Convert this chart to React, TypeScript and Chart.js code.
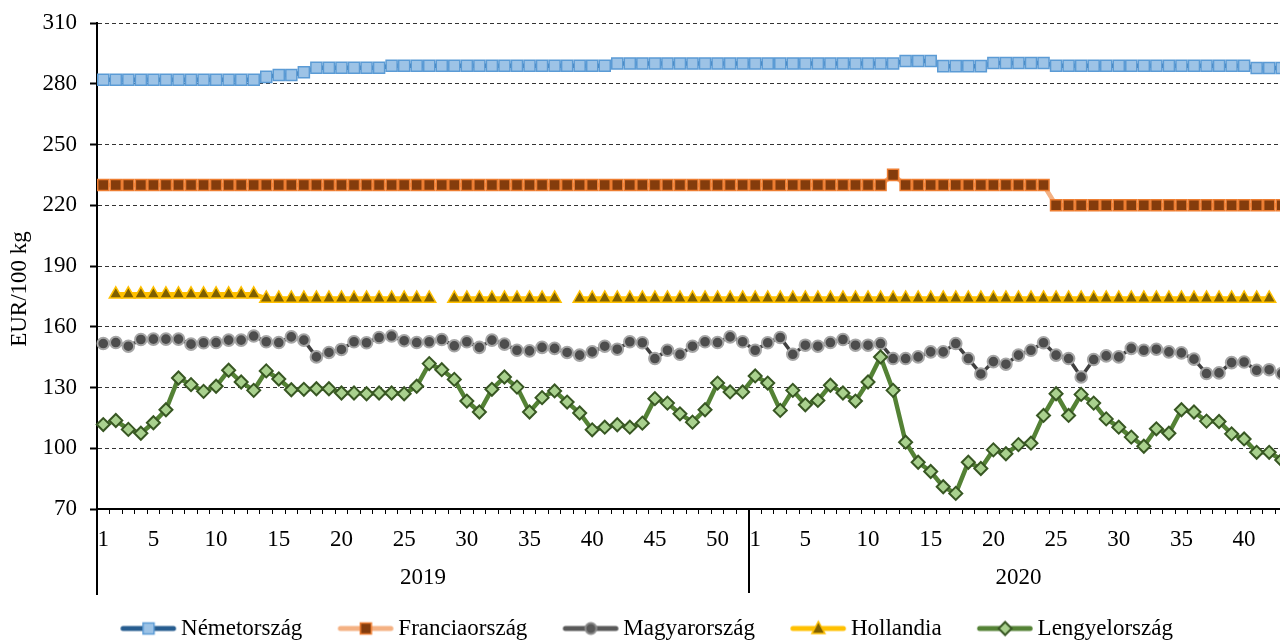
import { useEffect, useRef } from 'react';
import { Chart, registerables } from 'chart.js';

Chart.register(...registerables);

const FONT = "'Liberation Serif', 'Times New Roman', serif";

// Categories: weeks of 2019 and 2020
const weeks2019 = [1, 2, 3, 4, 5, 6, 7, 8, 9, 10, 11, 12, 13, 14, 15, 16, 17, 18, 19, 20, 21, 22, 23, 24, 25, 26, 27, 28, 29, 30, 31, 32, 33, 34, 35, 36, 37, 38, 39, 40, 41, 42, 43, 44, 45, 46, 47, 48, 49, 50, 51, 52];
const weeks2020 = [1, 2, 3, 4, 5, 6, 7, 8, 9, 10, 11, 12, 13, 14, 15, 16, 17, 18, 19, 20, 21, 22, 23, 24, 25, 26, 27, 28, 29, 30, 31, 32, 33, 34, 35, 36, 37, 38, 39, 40, 41, 42, 43];
const years = ['2019', '2020'];
const seriesNames = ['Németország', 'Franciaország', 'Magyarország', 'Hollandia', 'Lengyelország'];
const yTicks = [70, 100, 130, 160, 190, 220, 250, 280, 310];
const yTitle = 'EUR/100 kg';

const nemetorszag = [
  282, 282, 282, 282, 282, 282, 282, 282, 282, 282,
  282, 282, 282, 283.4, 284.3, 284.3, 285.7, 287.9, 287.9, 287.9,
  287.9, 287.9, 287.9, 288.9, 288.9, 288.9, 288.9, 288.9, 288.9, 288.9,
  288.9, 288.9, 288.9, 288.9, 288.9, 288.9, 288.9, 288.9, 288.9, 288.9,
  288.9, 290, 290, 290, 290, 290, 290, 290, 290, 290,
  290, 290, 290, 290, 290, 290, 290, 290, 290, 290,
  290, 290, 290, 290, 291.2, 291.2, 291.2, 288.7, 288.7, 288.7,
  288.7, 290.2, 290.2, 290.2, 290.2, 290.2, 288.9, 288.9, 288.9, 288.9,
  288.9, 288.9, 288.9, 288.9, 288.9, 288.9, 288.9, 288.9, 288.9, 288.9,
  288.9, 288.9, 287.8, 287.8, 287.8,
];

const franciaorszag = [
  230, 230, 230, 230, 230, 230, 230, 230, 230, 230,
  230, 230, 230, 230, 230, 230, 230, 230, 230, 230,
  230, 230, 230, 230, 230, 230, 230, 230, 230, 230,
  230, 230, 230, 230, 230, 230, 230, 230, 230, 230,
  230, 230, 230, 230, 230, 230, 230, 230, 230, 230,
  230, 230, 230, 230, 230, 230, 230, 230, 230, 230,
  230, 230, 230, 235, 230, 230, 230, 230, 230, 230,
  230, 230, 230, 230, 230, 230, 220, 220, 220, 220,
  220, 220, 220, 220, 220, 220, 220, 220, 220, 220,
  220, 220, 220, 220, 220,
];

const magyarorszag = [
  151.7, 152.2, 150.4, 153.7, 153.9, 153.9, 153.9, 151.4, 152.1, 152.2,
  153.4, 153.4, 155.4, 152.6, 152.2, 155.0, 153.4, 145.1, 147.3, 148.8,
  152.6, 152.1, 154.7, 155.4, 153.1, 152.2, 152.6, 153.7, 150.6, 152.6,
  149.8, 153.4, 151.4, 148.4, 148.1, 149.8, 149.3, 147.3, 146.0, 147.6,
  150.4, 148.9, 152.6, 152.1, 144.3, 148.4, 146.4, 150.4, 152.6, 152.2,
  155.0, 152.6, 148.4, 152.1, 154.7, 146.4, 150.9, 150.4, 152.2, 153.7,
  150.9, 150.9, 151.7, 144.3, 144.3, 145.1, 147.6, 147.6, 151.7, 144.3,
  136.7, 142.8, 141.5, 146.0, 148.4, 152.1, 146.0, 144.3, 135.2, 143.8,
  145.6, 145.1, 149.3, 148.4, 148.9, 147.6, 147.1, 144.0, 136.9, 137.2,
  142.3, 142.6, 138.5, 138.8, 136.9,
];

const hollandia = [
  null, 176, 176, 176, 176, 176, 176, 176, 176, 176,
  176, 176, 176, 174, 174, 174, 174, 174, 174, 174,
  174, 174, 174, 174, 174, 174, 174, null, 174, 174,
  174, 174, 174, 174, 174, 174, 174, null, 174, 174,
  174, 174, 174, 174, 174, 174, 174, 174, 174, 174,
  174, 174, 174, 174, 174, 174, 174, 174, 174, 174,
  174, 174, 174, 174, 174, 174, 174, 174, 174, 174,
  174, 174, 174, 174, 174, 174, 174, 174, 174, 174,
  174, 174, 174, 174, 174, 174, 174, 174, 174, 174,
  174, 174, 174, 174, null,
];

const lengyelorszag = [
  111.7, 113.7, 109.3, 107.4, 112.6, 119.0, 134.7, 131.4, 128.1, 130.6,
  138.5, 132.7, 128.6, 138.2, 134.2, 128.9, 129.1, 129.4, 129.4, 127.3,
  127.3, 126.9, 127.3, 127.3, 126.9, 130.6, 141.8, 138.8, 134.0, 123.3,
  117.9, 129.1, 135.2, 130.2, 117.9, 125.0, 128.3, 122.8, 117.4, 109.1,
  110.4, 111.6, 110.4, 112.4, 124.5, 122.3, 117.0, 112.9, 119.0, 132.2,
  127.8, 127.8, 135.7, 132.2, 118.7, 128.6, 121.5, 123.6, 131.1, 127.3,
  123.3, 132.7, 145.1, 128.6, 103.0, 93.1, 88.5, 81.0, 77.7, 93.1,
  90.0, 99.2, 97.3, 101.8, 102.5, 116.2, 126.9, 116.2, 126.6, 122.3,
  114.5, 110.4, 105.5, 101.0, 109.6, 107.4, 119.0, 117.9, 113.4, 113.2,
  107.1, 104.6, 98.0, 98.0, 94.2,
];

const labels = [...weeks2019, ...weeks2020].map(String);

type MarkerFn = (g: CanvasRenderingContext2D, x: number, y: number) => void;

function legendImage(lineColor: string, marker: MarkerFn) {
  const c = document.createElement('canvas');
  c.width = 64;
  c.height = 22;
  const g = c.getContext('2d')!;
  g.strokeStyle = lineColor;
  g.lineWidth = 5;
  g.lineCap = 'round';
  g.beginPath();
  g.moveTo(8.75, 11);
  g.lineTo(59.25, 11);
  g.stroke();
  marker(g, 34.25, 11);
  return c;
}

const squareMarker = (fill: string, border: string): MarkerFn => (g, x, y) => {
  g.fillStyle = fill;
  g.fillRect(x - 5.5, y - 5.5, 11, 11);
  g.strokeStyle = border;
  g.lineWidth = 1.5;
  g.strokeRect(x - 5.5, y - 5.5, 11, 11);
};
const circleMarker = (fill: string, border: string): MarkerFn => (g, x, y) => {
  g.beginPath();
  g.arc(x, y, 5.5, 0, Math.PI * 2);
  g.fillStyle = fill;
  g.fill();
  g.strokeStyle = border;
  g.lineWidth = 2;
  g.stroke();
};
const triangleMarker = (fill: string, border: string): MarkerFn => (g, x, y) => {
  g.beginPath();
  g.moveTo(x, y - 7);
  g.lineTo(x + 6.5, y + 5);
  g.lineTo(x - 6.5, y + 5);
  g.closePath();
  g.fillStyle = fill;
  g.fill();
  g.strokeStyle = border;
  g.lineWidth = 1.5;
  g.stroke();
};
const diamondMarker = (fill: string, border: string): MarkerFn => (g, x, y) => {
  g.beginPath();
  g.moveTo(x, y - 6.5);
  g.lineTo(x + 6.5, y);
  g.lineTo(x, y + 6.5);
  g.lineTo(x - 6.5, y);
  g.closePath();
  g.fillStyle = fill;
  g.fill();
  g.strokeStyle = border;
  g.lineWidth = 2;
  g.stroke();
};

const extrasPlugin = {
  id: 'extras',
  afterDraw(chart: any) {
    const { ctx, chartArea, scales } = chart;
    const xs = scales.x;
    const ys = scales.y;
    const n2019 = weeks2019.length;
    const divX = (xs.getPixelForTick(n2019 - 1) + xs.getPixelForTick(n2019)) / 2;
    ctx.save();
    ctx.strokeStyle = '#000';
    ctx.lineWidth = 2;
    ctx.beginPath();
    ctx.moveTo(Math.round(divX), chartArea.bottom);
    ctx.lineTo(Math.round(divX), 593);
    ctx.moveTo(ys.right, chartArea.bottom);
    ctx.lineTo(ys.right, 595);
    ctx.stroke();

    ctx.fillStyle = '#000';
    ctx.font = `23px ${FONT}`;
    ctx.textAlign = 'center';
    ctx.textBaseline = 'middle';
    ctx.fillText(years[0], (chartArea.left + divX) / 2, 578);
    ctx.fillText(years[1], (divX + chartArea.right) / 2, 578);

    ctx.translate(20, 289);
    ctx.rotate(-Math.PI / 2);
    ctx.fillText(yTitle, 0, 0);
    ctx.restore();
  },
};

export default function App() {
  const ref = useRef<HTMLCanvasElement>(null);

  useEffect(() => {
    document.body.style.margin = '0';
    Chart.defaults.font.family = FONT;
    Chart.defaults.font.size = 23;
    Chart.defaults.color = '#000';

    const legendImages = [
      legendImage('#265C8F', squareMarker('#9DC3E6', '#5B9BD5')),
      legendImage('#F4B183', squareMarker('#843C0C', '#ED7D31')),
      legendImage('#595959', circleMarker('#595959', '#8C8C8C')),
      legendImage('#FFC000', triangleMarker('#7F6000', '#FFC000')),
      legendImage('#548235', diamondMarker('#A9D18E', '#385723')),
    ];

    const chart = new Chart(ref.current!, {
      type: 'line',
      data: {
        labels,
        datasets: [
          {
            label: seriesNames[0],
            data: nemetorszag,
            borderColor: '#265C8F',
            borderWidth: 4.5,
            pointStyle: 'rect',
            pointRadius: 7.8,
            pointBorderWidth: 1.5,
            pointBackgroundColor: '#9DC3E6',
            pointBorderColor: '#5B9BD5',
            order: 5,
          },
          {
            label: seriesNames[1],
            data: franciaorszag,
            borderColor: '#F4B183',
            borderWidth: 4.5,
            pointStyle: 'rect',
            pointRadius: 7.8,
            pointBorderWidth: 1.5,
            pointBackgroundColor: '#843C0C',
            pointBorderColor: '#ED7D31',
            order: 4,
          },
          {
            label: seriesNames[2],
            data: magyarorszag,
            borderColor: '#404040',
            borderWidth: 3.5,
            pointStyle: 'circle',
            pointRadius: 5.8,
            pointBorderWidth: 2,
            pointBackgroundColor: '#4D4D4D',
            pointBorderColor: '#A6A6A6',
            order: 3,
          },
          {
            label: seriesNames[3],
            data: hollandia,
            borderColor: '#FFC000',
            borderWidth: 4.5,
            pointStyle: 'triangle',
            pointRadius: 7.5,
            pointBorderWidth: 1.5,
            pointBackgroundColor: '#7F6000',
            pointBorderColor: '#FFC000',
            spanGaps: false,
            order: 2,
          },
          {
            label: seriesNames[4],
            data: lengyelorszag,
            borderColor: '#548235',
            borderWidth: 4.5,
            pointStyle: 'rectRot',
            pointRadius: 6.5,
            pointBorderWidth: 2,
            pointBackgroundColor: '#A9D18E',
            pointBorderColor: '#385723',
            order: 1,
          },
        ],
      },
      options: {
        responsive: false,
        maintainAspectRatio: false,
        animation: false,
        devicePixelRatio: 1,
        events: [],
        layout: { padding: { left: 8, right: 12, top: 23, bottom: 0 } },
        elements: { line: { tension: 0 } },
        scales: {
          x: {
            type: 'category',
            offset: true,
            ticks: {
              autoSkip: false,
              maxRotation: 0,
              minRotation: 0,
              color: '#000',
              font: { size: 23, family: FONT },
              padding: 12,
              callback: (_v: any, i: number) => {
                const w = Number(labels[i]);
                return w === 1 || w % 5 === 0 ? String(w) : '';
              },
            },
            grid: {
              display: true,
              drawOnChartArea: false,
              drawTicks: true,
              tickLength: 5,
              offset: true,
              tickColor: '#000',
              tickWidth: 1,
            },
            border: { display: true, color: '#000', width: 2 },
            afterFit: (s: any) => {
              s.height = 70;
            },
          },
          y: {
            min: 70,
            max: 310,
            afterBuildTicks: (s: any) => {
              s.ticks = yTicks.map((v) => ({ value: v }));
            },
            ticks: {
              color: '#000',
              font: { size: 23, family: FONT },
              padding: 13,
            },
            grid: {
              color: '#333',
              lineWidth: 1,
              drawTicks: true,
              tickLength: 7,
              tickColor: '#000',
              tickWidth: 2,
            },
            border: { display: true, color: '#000', width: 2, dash: [4, 3] },
            afterFit: (s: any) => {
              s.width = 89;
              s.paddingTop = 12;
              s.paddingBottom = 12;
            },
          },
        },
        plugins: {
          tooltip: { enabled: false },
          legend: {
            position: 'bottom',
            labels: {
              usePointStyle: true,
              pointStyleWidth: 46.5,
              padding: 38,
              color: '#000',
              font: { size: 23, family: FONT },
              generateLabels: () =>
                seriesNames.map((name, i) => ({
                  text: name,
                  pointStyle: legendImages[i] as any,
                  fillStyle: 'rgba(0,0,0,0)',
                  strokeStyle: 'rgba(0,0,0,0)',
                  lineWidth: 0,
                  hidden: false,
                  datasetIndex: i,
                  fontColor: '#000',
                })),
            },
          },
        },
      },
      plugins: [extrasPlugin],
    } as any);

    return () => chart.destroy();
  }, []);

  return (
    <div style={{ width: 1280, height: 640, overflow: 'hidden', position: 'relative', background: '#fff' }}>
      <canvas ref={ref} width={1300} height={650} style={{ display: 'block' }} />
    </div>
  );
}
